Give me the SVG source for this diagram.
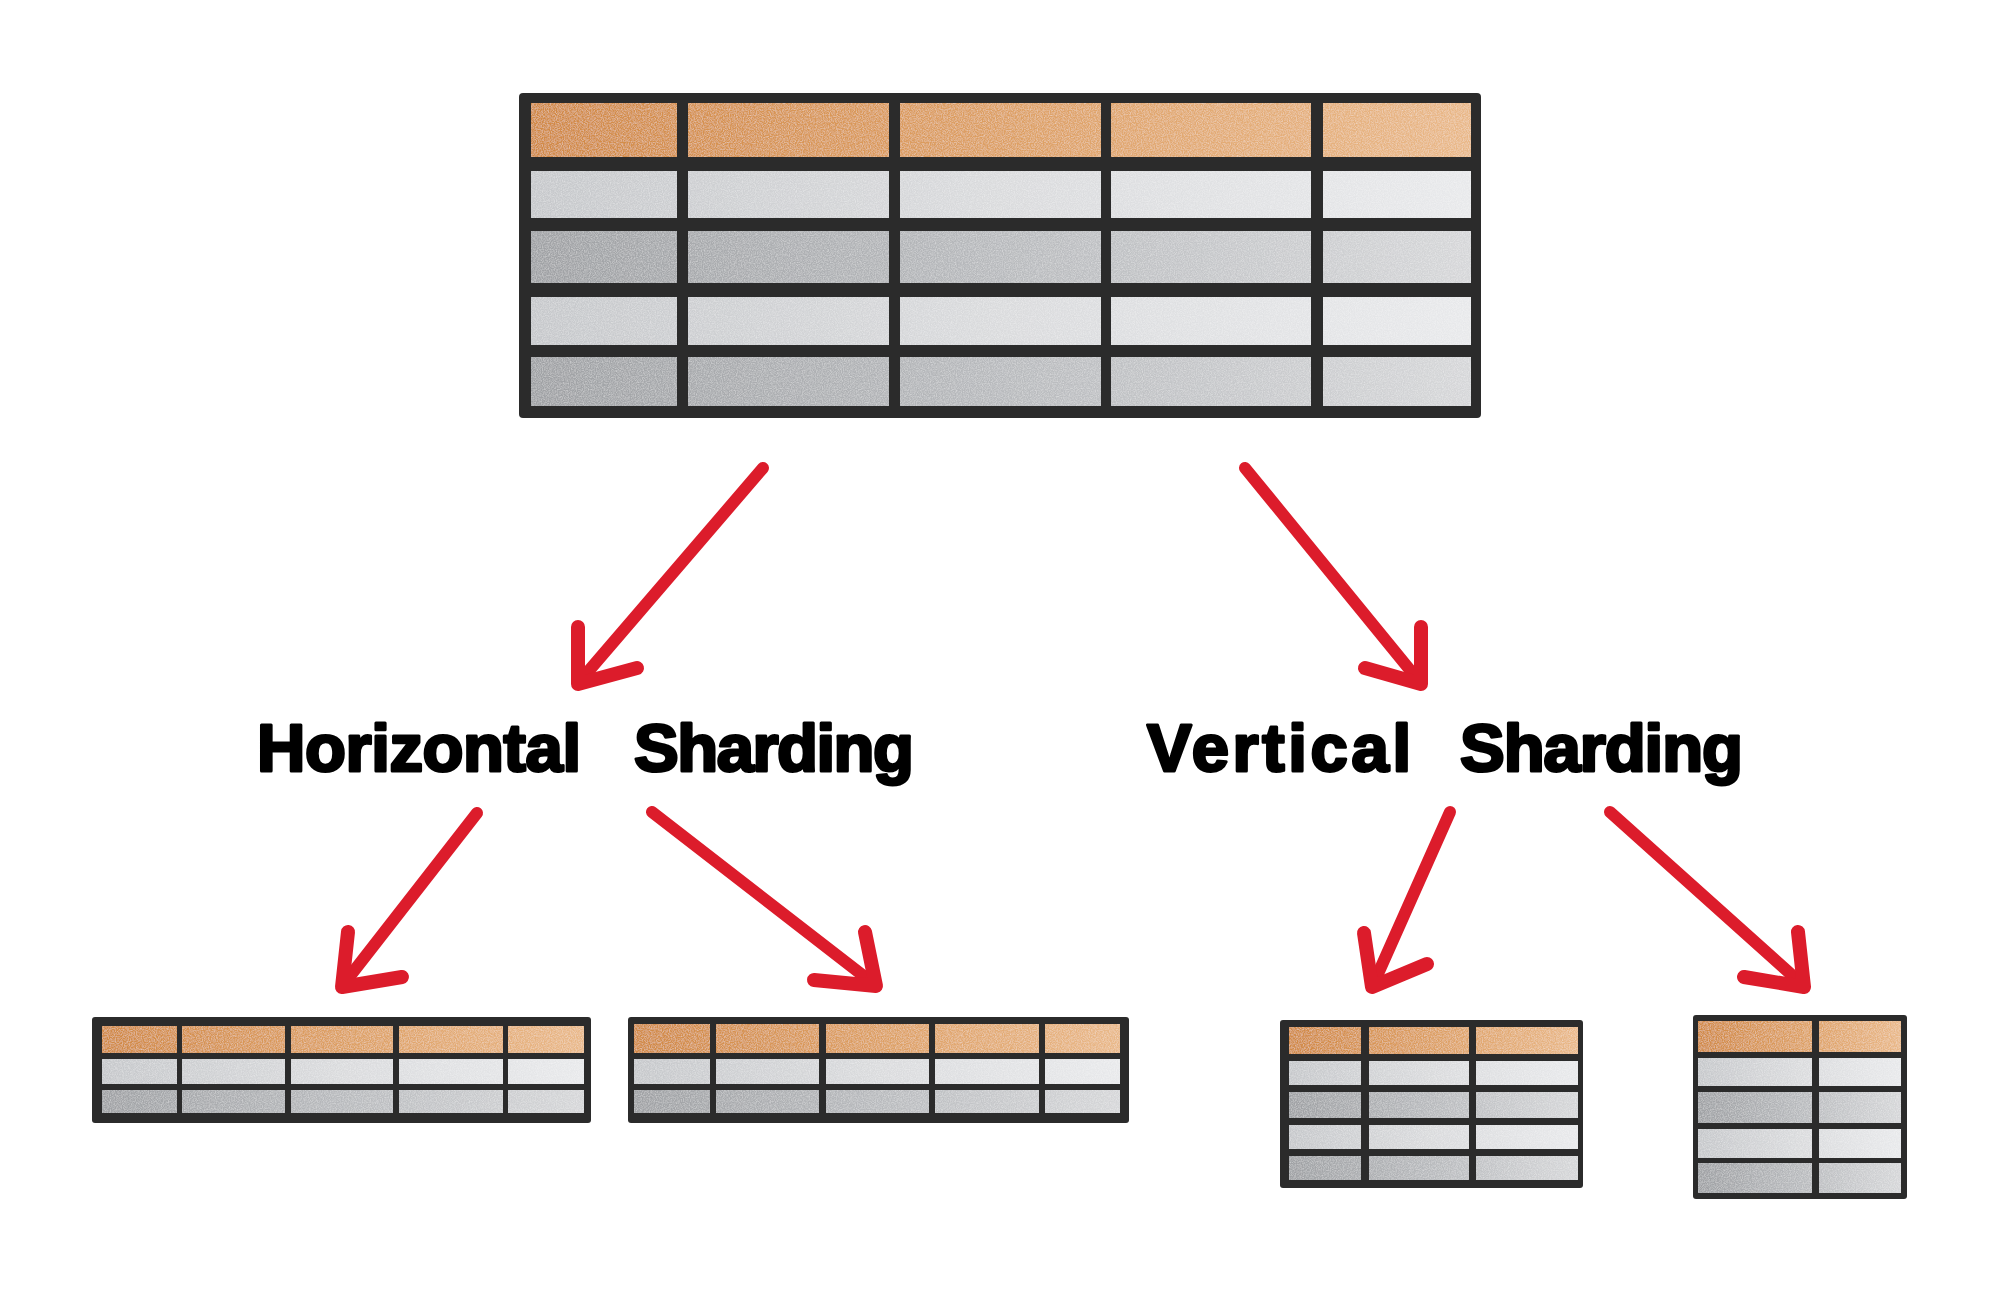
<svg xmlns="http://www.w3.org/2000/svg" width="2000" height="1292" viewBox="0 0 2000 1292">
<defs>
<linearGradient id="gH" x1="0" y1="0" x2="1" y2="0">
<stop offset="0" stop-color="#d18944"/><stop offset="0.5" stop-color="#dd9f62"/><stop offset="1" stop-color="#e9b888"/>
</linearGradient>
<linearGradient id="gL" x1="0" y1="0" x2="1" y2="0">
<stop offset="0" stop-color="#c6c8cb"/><stop offset="0.5" stop-color="#dadbdd"/><stop offset="1" stop-color="#e8e9eb"/>
</linearGradient>
<linearGradient id="gD" x1="0" y1="0" x2="1" y2="0">
<stop offset="0" stop-color="#9fa1a4"/><stop offset="0.5" stop-color="#b8babd"/><stop offset="1" stop-color="#d6d7d9"/>
</linearGradient>
<filter id="grain" x="0" y="0" width="100%" height="100%">
<feTurbulence type="fractalNoise" baseFrequency="0.85" numOctaves="2" seed="4" result="n"/>
<feColorMatrix in="n" type="matrix" values="0 0 0 0 1  0 0 0 0 1  0 0 0 0 1  0.7 0 0 0 -0.25" result="w"/>
<feComposite in="w" in2="SourceGraphic" operator="in" result="ws"/>
<feMerge><feMergeNode in="SourceGraphic"/><feMergeNode in="ws"/></feMerge>
</filter>
</defs>
<style>
.frame{fill:#2b2b2b}
.hdr{fill:url(#gH)}
.lt{fill:url(#gL)}
.dk{fill:url(#gD)}
.sep{fill:#2b2b2b}
.label{font-family:"Liberation Sans",Arial,sans-serif;font-weight:700;font-size:67px;fill:#000;stroke:#000;stroke-width:3;stroke-linejoin:round;paint-order:stroke}
.arrow{fill:none;stroke:#dc1c2b;stroke-width:12;stroke-linecap:round;stroke-linejoin:round}
.head{fill:none;stroke:#dc1c2b;stroke-width:14;stroke-linecap:round;stroke-linejoin:round}
</style>
<rect width="2000" height="1292" fill="#ffffff"/>

<g id="table-full">
<rect class="frame" x="519" y="93" width="962" height="325" rx="4"/>
<g filter="url(#grain)">
<rect class="hdr" x="531" y="103" width="940" height="54"/>
<rect class="lt" x="531" y="171" width="940" height="47"/>
<rect class="dk" x="531" y="231" width="940" height="52"/>
<rect class="lt" x="531" y="297" width="940" height="48"/>
<rect class="dk" x="531" y="357" width="940" height="49"/>
</g>
<rect class="sep" x="677" y="100" width="11" height="310"/>
<rect class="sep" x="889" y="100" width="11" height="310"/>
<rect class="sep" x="1101" y="100" width="10" height="310"/>
<rect class="sep" x="1311" y="100" width="12" height="310"/>
</g>

<g id="label-horizontal">
<text class="label" y="771"><tspan x="257" textLength="324" lengthAdjust="spacing">Horizontal</tspan> <tspan x="634" textLength="280" lengthAdjust="spacing">Sharding</tspan></text>
</g>
<g id="label-vertical">
<text class="label" y="771"><tspan x="1147" textLength="264" lengthAdjust="spacing">Vertical</tspan> <tspan x="1460" textLength="283" lengthAdjust="spacing">Sharding</tspan></text>
</g>

<g id="table-h1">
<rect class="frame" x="92" y="1017" width="499" height="106" rx="3"/>
<g filter="url(#grain)">
<rect class="hdr" x="102" y="1026" width="482" height="27"/>
<rect class="lt" x="102" y="1059" width="482" height="25"/>
<rect class="dk" x="102" y="1090" width="482" height="23"/>
</g>
<rect class="sep" x="177" y="1022" width="5" height="96"/>
<rect class="sep" x="285" y="1022" width="6" height="96"/>
<rect class="sep" x="393" y="1022" width="6" height="96"/>
<rect class="sep" x="503" y="1022" width="5" height="96"/>
</g>

<g id="table-h2">
<rect class="frame" x="628" y="1017" width="501" height="106" rx="3"/>
<g filter="url(#grain)">
<rect class="hdr" x="634" y="1024" width="486" height="29"/>
<rect class="lt" x="634" y="1059" width="486" height="25"/>
<rect class="dk" x="634" y="1090" width="486" height="23"/>
</g>
<rect class="sep" x="710" y="1020" width="6" height="98"/>
<rect class="sep" x="819" y="1020" width="7" height="98"/>
<rect class="sep" x="929" y="1020" width="6" height="98"/>
<rect class="sep" x="1039" y="1020" width="6" height="98"/>
</g>

<g id="table-v1">
<rect class="frame" x="1280" y="1020" width="303" height="168" rx="3"/>
<g filter="url(#grain)">
<rect class="hdr" x="1289" y="1027" width="289" height="27"/>
<rect class="lt" x="1289" y="1061" width="289" height="24"/>
<rect class="dk" x="1289" y="1092" width="289" height="26"/>
<rect class="lt" x="1289" y="1125" width="289" height="24"/>
<rect class="dk" x="1289" y="1156" width="289" height="24"/>
</g>
<rect class="sep" x="1361" y="1024" width="8" height="160"/>
<rect class="sep" x="1469" y="1024" width="7" height="160"/>
</g>

<g id="table-v2">
<rect class="frame" x="1693" y="1015" width="214" height="184" rx="3"/>
<g filter="url(#grain)">
<rect class="hdr" x="1698" y="1021" width="203" height="31"/>
<rect class="lt" x="1698" y="1058" width="203" height="28"/>
<rect class="dk" x="1698" y="1092" width="203" height="31"/>
<rect class="lt" x="1698" y="1129" width="203" height="29"/>
<rect class="dk" x="1698" y="1163" width="203" height="30"/>
</g>
<rect class="sep" x="1812" y="1018" width="7" height="178"/>
</g>

<g id="connectors">
<path class="arrow" d="M763,468 L580,681"/>
<path class="head" d="M578,627 L578,684 L637,668"/>
<path class="arrow" d="M1245,468 L1419,681"/>
<path class="head" d="M1421,627 L1421,684 L1365,668"/>
<path class="arrow" d="M477,813 L343,985"/>
<path class="head" d="M348,932 L342,987 L402,977"/>
<path class="arrow" d="M652,812 L874,984"/>
<path class="head" d="M865,932 L876,986 L814,980"/>
<path class="arrow" d="M1450,812 L1373,985"/>
<path class="head" d="M1364,933 L1372,987 L1427,964"/>
<path class="arrow" d="M1610,812 L1803,985"/>
<path class="head" d="M1798,932 L1804,987 L1744,977"/>
</g>
</svg>
